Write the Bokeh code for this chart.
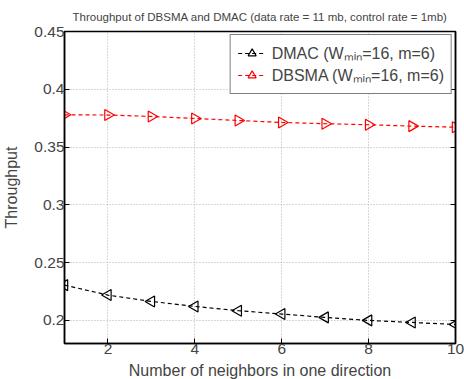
import math
from bokeh.plotting import figure
from bokeh.models import (FixedTicker, CustomJSTickFormatter, Legend, LegendItem,
                          Range1d, LinearAxis)
from bokeh.embed import file_html
from bokeh.resources import INLINE

neighbors = [1, 2, 3, 4, 5, 6, 7, 8, 9, 10]
dmac = [0.2305, 0.2219, 0.2164, 0.2121, 0.2084, 0.2055, 0.2026, 0.2000, 0.1982, 0.1965]
dbsma = [0.3779, 0.3777, 0.3765, 0.3747, 0.3730, 0.3713, 0.3702, 0.3693, 0.3681, 0.3672]
x_ticks = [2, 4, 6, 8, 10]
y_ticks = [0.2, 0.25, 0.3, 0.35, 0.4, 0.45]

FONT = "Liberation Sans"

p = figure(frame_width=391, frame_height=312, output_backend="svg", toolbar_location=None,
           x_range=Range1d(1, 10), y_range=Range1d(0.18, 0.45),
           min_border_left=56, min_border_right=9, min_border_top=23, min_border_bottom=36)

p.title.text = "Throughput of DBSMA and DMAC (data rate = 11 mb, control rate = 1mb)"
p.title.align = "center"
p.title.text_font = FONT
p.title.text_font_size = "11.5px"
p.title.text_font_style = "normal"
p.title.standoff = 17

p.outline_line_color = "black"
p.outline_line_width = 1.5
p.background_fill_color = "white"
p.border_fill_color = "white"

for g in (p.xgrid, p.ygrid):
    g.grid_line_color = "#b0b0b0"
    g.grid_line_dash = "1 2"
    g.grid_line_width = 1
p.xgrid.ticker = FixedTicker(ticks=x_ticks)
p.ygrid.ticker = FixedTicker(ticks=y_ticks)

p.xaxis.ticker = FixedTicker(ticks=x_ticks)
p.yaxis.ticker = FixedTicker(ticks=y_ticks)
p.yaxis.formatter = CustomJSTickFormatter(code="return String(Math.round(tick*100)/100);")

for ax in (p.xaxis[0], p.yaxis[0]):
    ax.axis_line_color = "black"
    ax.axis_line_width = 1.5
    ax.major_tick_in = 5
    ax.major_tick_out = 0
    ax.minor_tick_line_color = None
    ax.major_label_text_font = FONT
    ax.major_label_text_font_size = "15.5px"
    ax.axis_label_text_font = FONT
    ax.axis_label_text_font_size = "16px"
    ax.axis_label_text_font_style = "normal"
    ax.major_label_standoff = 0
    ax.axis_label_standoff = 0

p.xaxis.axis_label = "Number of neighbors in one direction"
p.yaxis.axis_label = "Throughput"
p.xaxis.axis_label_standoff = 5
p.yaxis.axis_label_standoff = 11

# mirrored ticks on the right
rax = LinearAxis(ticker=FixedTicker(ticks=y_ticks),
                 major_label_text_font_size="0px", major_tick_in=5, major_tick_out=0,
                 minor_tick_line_color=None, axis_line_color="black", axis_line_width=1.5,
                 major_label_standoff=0)
p.add_layout(rax, "right")

l1 = p.line(neighbors, dmac, line_color="black", line_dash="4 3", line_width=1.2)
s1 = p.scatter(neighbors, dmac, marker="triangle", angle=math.pi / 2, size=11,
               line_color="black", fill_color=None, line_width=1.2)
l2 = p.line(neighbors, dbsma, line_color="red", line_dash="4 3", line_width=1.2)
s2 = p.scatter(neighbors, dbsma, marker="triangle", angle=-math.pi / 2, size=11,
               line_color="red", fill_color=None, line_width=1.2)

legend = Legend(items=[
    LegendItem(label="DMAC (W\u2098\u1d62\u2099=16, m=6)", renderers=[l1, s1]),
    LegendItem(label="DBSMA (W\u2098\u1d62\u2099=16, m=6)", renderers=[l2, s2]),
], location="top_right")
legend.label_text_font = FONT
legend.label_text_font_size = "16px"
legend.label_height = 22
legend.border_line_color = "black"
legend.border_line_width = 1.2
legend.margin = 3
legend.padding = 7
legend.spacing = 0
legend.glyph_width = 28
legend.label_standoff = 6
legend.background_fill_alpha = 1
p.add_layout(legend)

open("out.html", "w").write(file_html(p, INLINE))
